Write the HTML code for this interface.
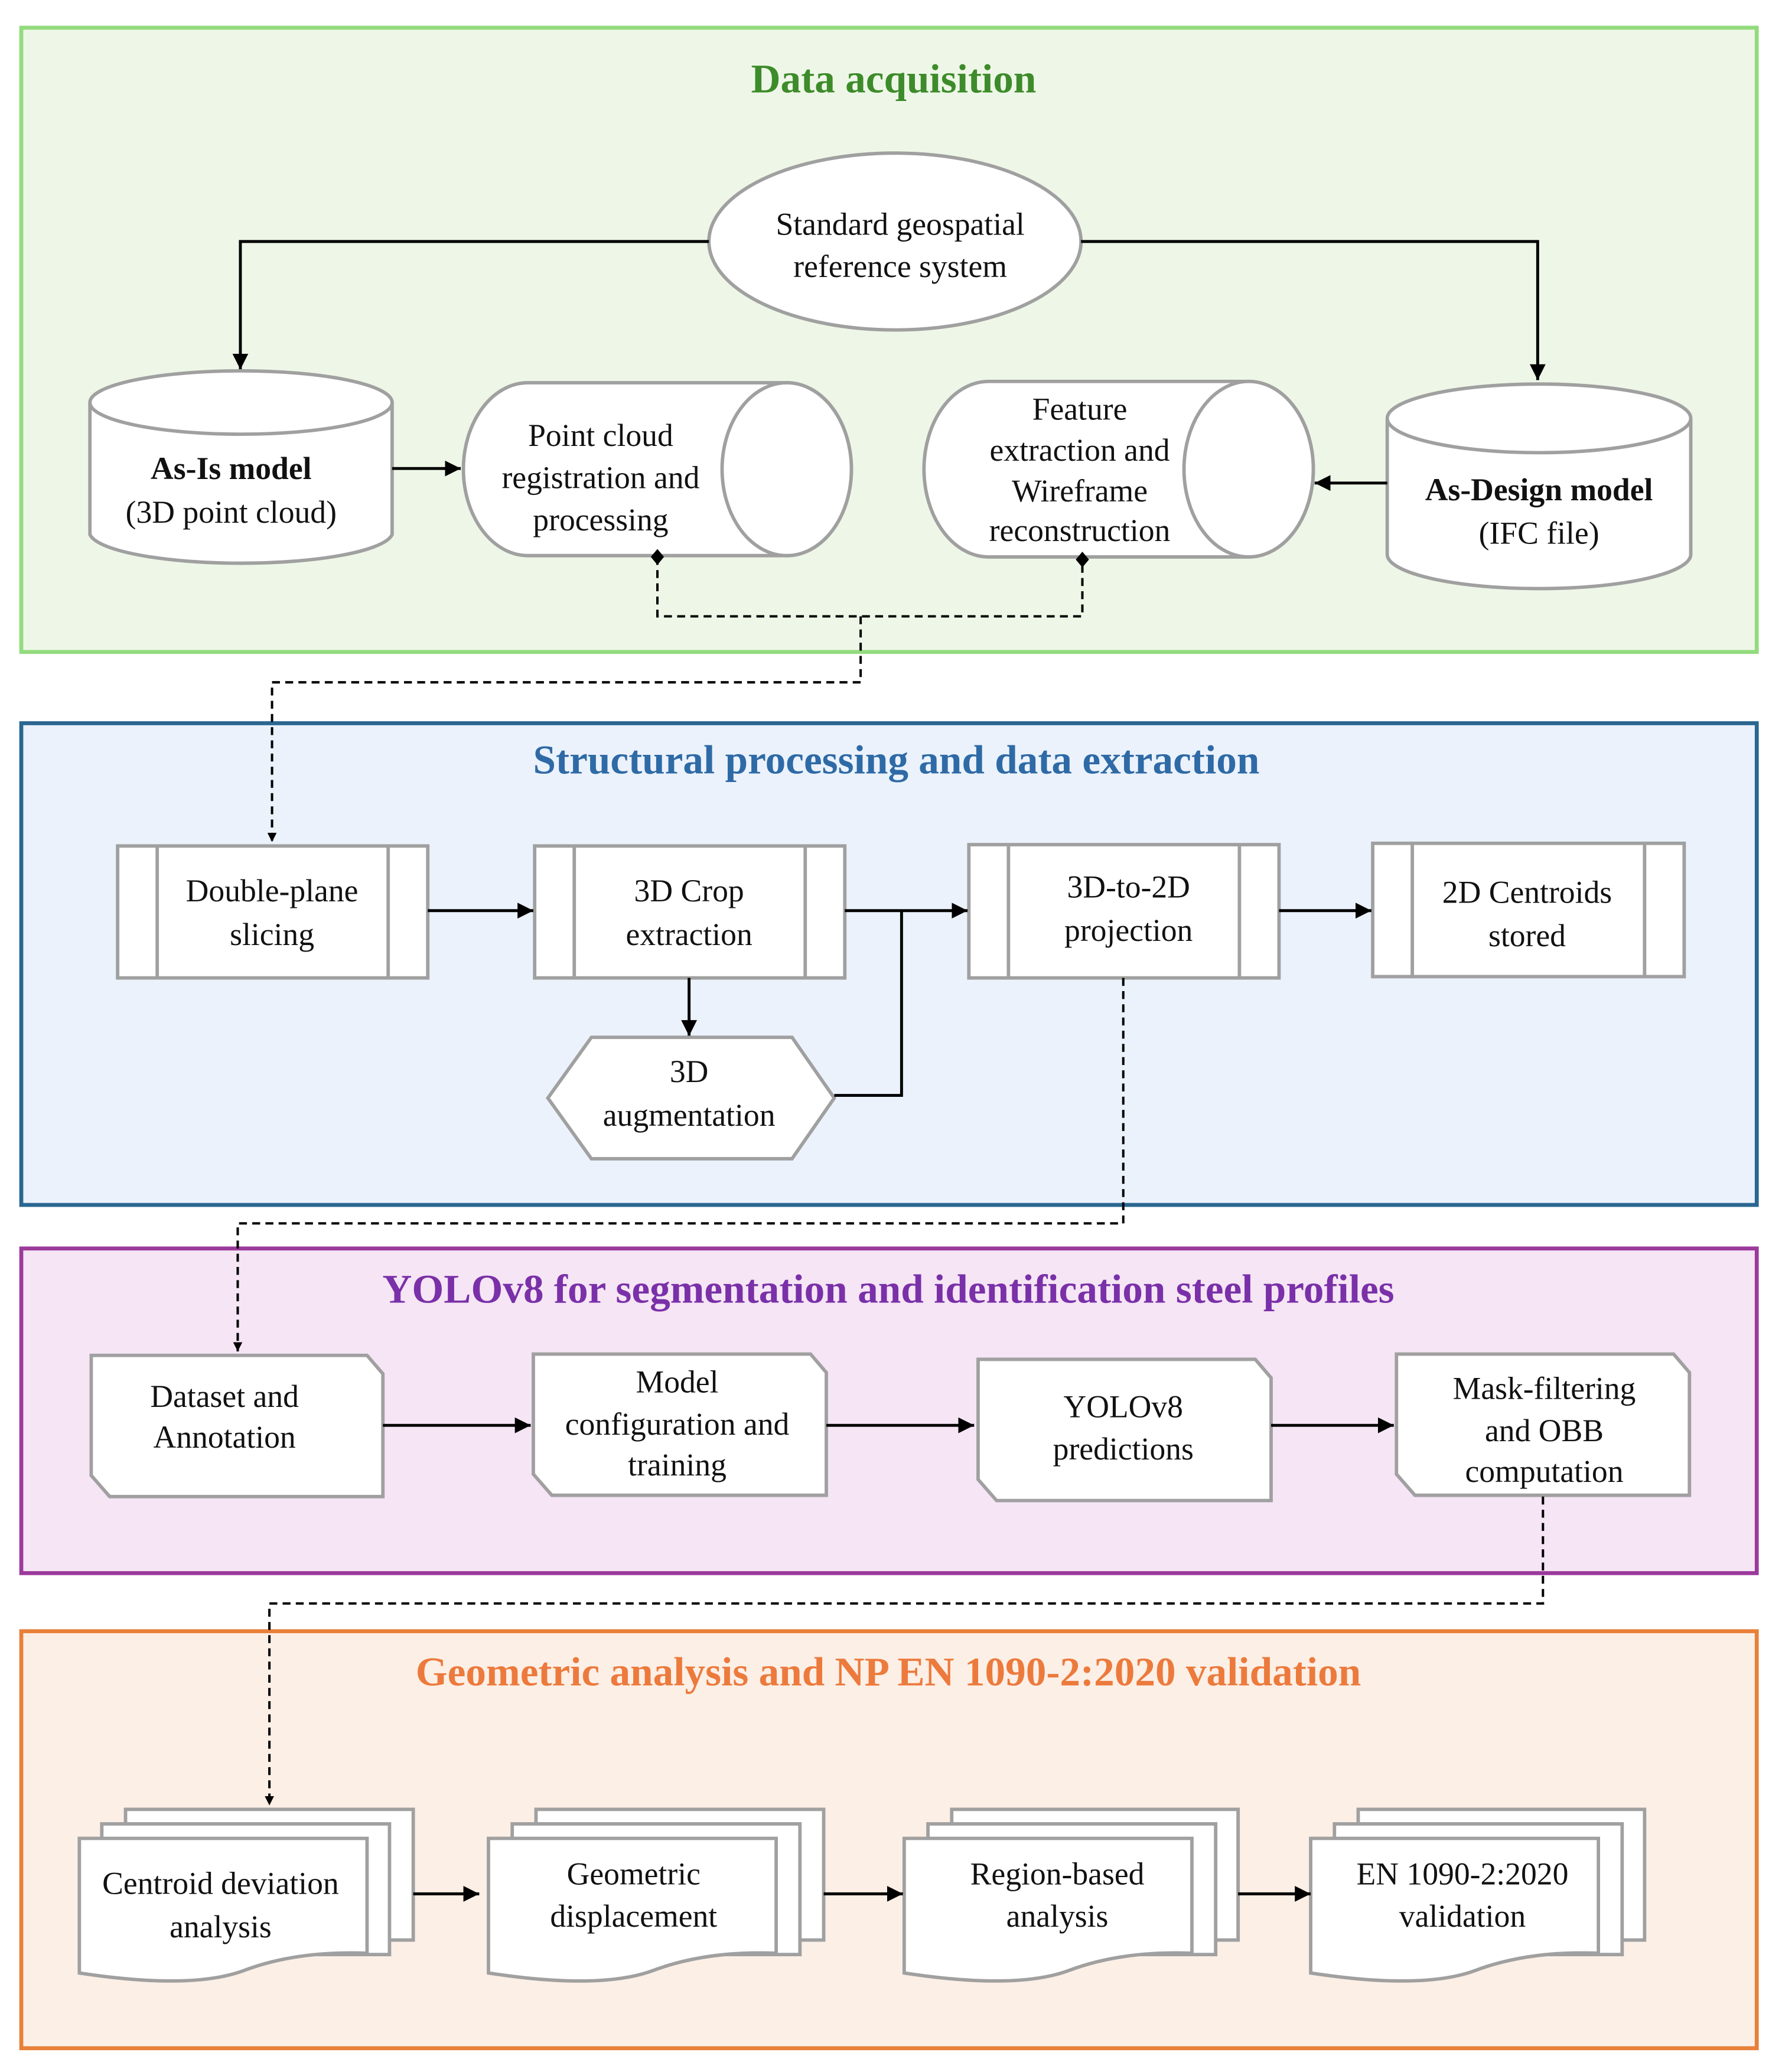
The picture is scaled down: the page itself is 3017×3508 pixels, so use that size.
<!DOCTYPE html>
<html><head><meta charset="utf-8"><style>
html,body{margin:0;padding:0;background:#fff;}
svg{display:block;}
text{font-family:"Liberation Serif","DejaVu Serif",serif;font-size:24px;fill:#111;text-anchor:middle;}
.t{font-weight:bold;font-size:31px;}
.b{font-weight:bold;}
.s{fill:#fff;stroke:#a0a0a0;stroke-width:2.6;}
.l{fill:none;stroke:#000;stroke-width:2.2;}
.d{fill:none;stroke:#000;stroke-width:1.8;stroke-dasharray:6,4;}
</style></head><body>
<svg width="3017" height="3508" viewBox="0 0 1350 1570" xmlns="http://www.w3.org/2000/svg">
<defs>
<marker id="a" viewBox="0 0 10 10" refX="10" refY="5" markerWidth="7" markerHeight="7" markerUnits="userSpaceOnUse" orient="auto"><path d="M0,0L10,5L0,10z" fill="#000"/></marker>
<marker id="a2" viewBox="0 0 10 10" refX="10" refY="5" markerWidth="12" markerHeight="12" markerUnits="userSpaceOnUse" orient="auto"><path d="M0,0L10,5L0,10z" fill="#000"/></marker>
</defs>

<!-- Section 1 -->
<rect x="16" y="21" width="1315" height="473" fill="#eef7e7" stroke="#93db7e" stroke-width="3"/>
<text x="677" y="70" class="t" style="fill:#3d8b2a">Data acquisition</text>
<ellipse cx="678" cy="183" rx="141" ry="67" class="s"/>
<text x="682" y="178">Standard geospatial</text>
<text x="682" y="210">reference system</text>
<path d="M537,183H182V280" class="l" marker-end="url(#a2)"/>
<path d="M819,183H1165V288" class="l" marker-end="url(#a2)"/>

<path d="M68,305V405A115,24 0 0 0 297,405V305" class="s"/>
<ellipse cx="182.5" cy="305" rx="114.5" ry="24" class="s"/>
<text x="175" y="363" class="b">As-Is model</text>
<text x="175" y="396">(3D point cloud)</text>
<path d="M297,355H349" class="l" marker-end="url(#a2)"/>

<path d="M400,290H596A49,65.5 0 0 1 596,421H400A49,65.5 0 0 1 400,290Z" class="s"/>
<ellipse cx="596" cy="355.5" rx="49" ry="65.5" class="s"/>
<text x="455" y="338">Point cloud</text>
<text x="455" y="370">registration and</text>
<text x="455" y="402">processing</text>

<path d="M749,289H946A49,66.5 0 0 1 946,422H749A49,66.5 0 0 1 749,289Z" class="s"/>
<ellipse cx="946" cy="355.5" rx="49" ry="66.5" class="s"/>
<text x="818" y="318">Feature</text>
<text x="818" y="349">extraction and</text>
<text x="818" y="380">Wireframe</text>
<text x="818" y="410">reconstruction</text>

<path d="M1051,318V420A115,26 0 0 0 1281,420V318" class="s"/>
<ellipse cx="1166" cy="317" rx="115" ry="26" class="s"/>
<text x="1166" y="379" class="b">As-Design model</text>
<text x="1166" y="412">(IFC file)</text>
<path d="M1051,366H996" class="l" marker-end="url(#a2)"/>

<!-- Section 2 -->
<rect x="16" y="548" width="1315" height="365" fill="#ebf2fb" stroke="#2a6690" stroke-width="3"/>
<text x="679" y="586" class="t" style="fill:#2e6aa6">Structural processing and data extraction</text>

<rect x="89" y="641" width="235" height="100" class="s"/><path d="M119,641V741M294,641V741" class="s"/>
<text x="206" y="683">Double-plane</text><text x="206" y="716">slicing</text>
<rect x="405" y="641" width="235" height="100" class="s"/><path d="M435,641V741M610,641V741" class="s"/>
<text x="522" y="683">3D Crop</text><text x="522" y="716">extraction</text>
<rect x="734" y="640" width="235" height="101" class="s"/><path d="M764,640V741M939,640V741" class="s"/>
<text x="855" y="680">3D-to-2D</text><text x="855" y="713">projection</text>
<rect x="1040" y="639" width="236" height="101" class="s"/><path d="M1070,639V740M1246,639V740" class="s"/>
<text x="1157" y="684">2D Centroids</text><text x="1157" y="717">stored</text>
<path d="M324,690H404" class="l" marker-end="url(#a2)"/>
<path d="M640,690H733" class="l" marker-end="url(#a2)"/>
<path d="M969,690H1039" class="l" marker-end="url(#a2)"/>
<path d="M522,741V785" class="l" marker-end="url(#a2)"/>
<polygon points="415,832 448,786 600,786 632,832 600,878 448,878" class="s"/>
<text x="522" y="820">3D</text><text x="522" y="853">augmentation</text>
<path d="M632,830H683V690" class="l"/>

<!-- Section 3 -->
<rect x="16" y="946" width="1315" height="246" fill="#f5e5f5" stroke="#9c3a9c" stroke-width="3"/>
<text x="673" y="987" class="t" style="fill:#7a30a8">YOLOv8 for segmentation and identification steel profiles</text>

<path d="M69,1027H278L290,1041V1134H83L69,1118Z" class="s"/>
<text x="170" y="1066">Dataset and</text><text x="170" y="1097">Annotation</text>
<path d="M404,1026H614L626,1040V1133H418L404,1117Z" class="s"/>
<text x="513" y="1055">Model</text><text x="513" y="1087">configuration and</text><text x="513" y="1118">training</text>
<path d="M741,1030H951L963,1044V1137H755L741,1121Z" class="s"/>
<text x="851" y="1074">YOLOv8</text><text x="851" y="1106">predictions</text>
<path d="M1058,1026H1268L1280,1040V1133H1072L1058,1117Z" class="s"/>
<text x="1170" y="1060">Mask-filtering</text><text x="1170" y="1092">and OBB</text><text x="1170" y="1123">computation</text>
<path d="M290,1080H402" class="l" marker-end="url(#a2)"/>
<path d="M626,1080H738" class="l" marker-end="url(#a2)"/>
<path d="M963,1080H1056" class="l" marker-end="url(#a2)"/>

<!-- Section 4 -->
<rect x="16" y="1236" width="1315" height="316" fill="#fcefe6" stroke="#e8803a" stroke-width="3"/>
<text x="673" y="1277" class="t" style="fill:#ec7a3c">Geometric analysis and NP EN 1090-2:2020 validation</text>

<rect x="95" y="1371" width="218" height="99" class="s"/>
<rect x="77" y="1382" width="218" height="99" class="s"/>
<path d="M60,1393H278V1480Q225,1478 185,1493T60,1495Z" class="s"/>
<text x="167" y="1435">Centroid deviation</text><text x="167" y="1468">analysis</text>
<rect x="406" y="1371" width="218" height="99" class="s"/>
<rect x="388" y="1382" width="218" height="99" class="s"/>
<path d="M370,1393H588V1480Q535,1478 495,1493T370,1495Z" class="s"/>
<text x="480" y="1428">Geometric</text><text x="480" y="1460">displacement</text>
<rect x="721" y="1371" width="217" height="99" class="s"/>
<rect x="703" y="1382" width="218" height="99" class="s"/>
<path d="M685,1393H903V1480Q850,1478 810,1493T685,1495Z" class="s"/>
<text x="801" y="1428">Region-based</text><text x="801" y="1460">analysis</text>
<rect x="1029" y="1371" width="217" height="99" class="s"/>
<rect x="1011" y="1382" width="218" height="99" class="s"/>
<path d="M993,1393H1211V1480Q1158,1478 1118,1493T993,1495Z" class="s"/>
<text x="1108" y="1428">EN 1090-2:2020</text><text x="1108" y="1460">validation</text>
<path d="M313,1435H363" class="l" marker-end="url(#a2)"/>
<path d="M624,1435H684" class="l" marker-end="url(#a2)"/>
<path d="M938,1435H993" class="l" marker-end="url(#a2)"/>

<!-- dashed connectors on top -->
<path d="M498,422V467H820V424" class="d"/>
<path d="M498,416l5,6l-5,6l-5,-6z" fill="#000"/>
<path d="M820,418l5,6l-5,6l-5,-6z" fill="#000"/>
<path d="M652,467V517H206V638" class="d" marker-end="url(#a)"/>
<path d="M851,741V927H180V1024" class="d" marker-end="url(#a)"/>
<path d="M1169,1134V1215H204V1368" class="d" marker-end="url(#a)"/>
</svg>
</body></html>
